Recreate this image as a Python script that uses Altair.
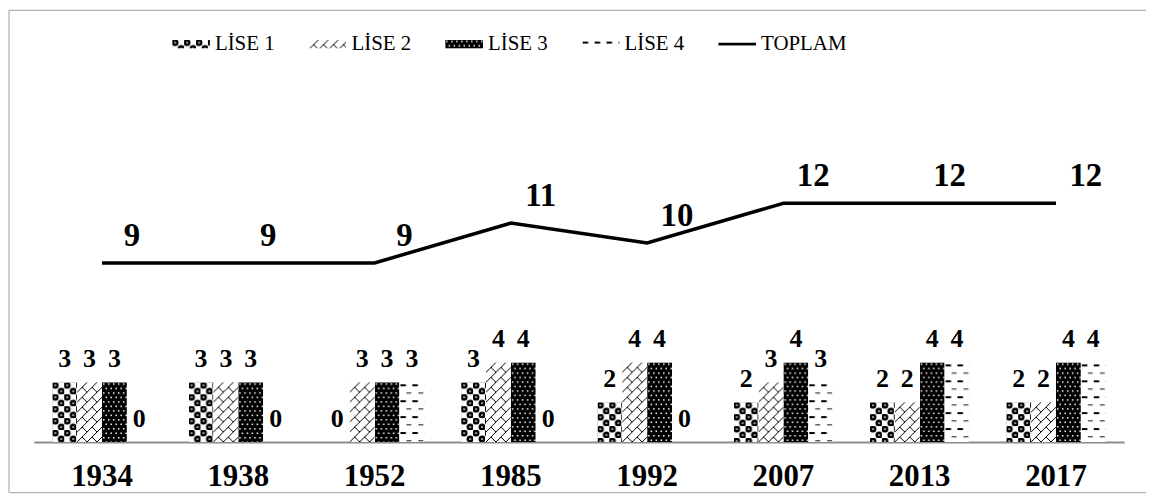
import base64
import altair as alt
import pandas as pd

years = ["1934", "1938", "1952", "1985", "1992", "2007", "2013", "2017"]
series = ["LİSE 1", "LİSE 2", "LİSE 3", "LİSE 4"]
lise1 = [3, 3, 0, 3, 2, 2, 2, 2]
lise2 = [3, 3, 3, 4, 4, 3, 2, 2]
lise3 = [3, 3, 3, 4, 4, 4, 4, 4]
lise4 = [0, 0, 3, 0, 0, 3, 4, 4]
toplam = [9, 9, 9, 11, 10, 12, 12, 12]
legend_items = ["LİSE 1", "LİSE 2", "LİSE 3", "LİSE 4", "TOPLAM"]

FONT = "Liberation Serif"


def pattern_uri(tw, th, content, bg):
    svg = (
        '<svg xmlns="http://www.w3.org/2000/svg" width="100%" height="100%">'
        f'<defs><pattern id="p" patternUnits="userSpaceOnUse" width="{tw}" height="{th}">'
        f'<rect width="{tw}" height="{th}" fill="{bg}"/>{content}</pattern></defs>'
        '<rect width="100%" height="100%" fill="url(#p)"/></svg>'
    )
    return "data:image/svg+xml;base64," + base64.b64encode(svg.encode("utf-8")).decode()


patterns = {
    "LİSE 1": pattern_uri(
        12, 12,
        '<circle cx="3" cy="3" r="3.5" fill="black"/><circle cx="9" cy="9" r="3.5" fill="black"/>'
        '<rect x="2" y="2.5" width="2.2" height="1.1" fill="white"/>'
        '<rect x="8" y="8.5" width="2.2" height="1.1" fill="white"/>',
        "white"),
    "LİSE 2": pattern_uri(
        10, 10,
        '<path d="M-1,11 L11,-1 M5,5 L11,11" stroke="black" stroke-width="1" fill="none"/>',
        "white"),
    "LİSE 3": pattern_uri(
        5, 9,
        '<rect x="1" y="1" width="1.5" height="1.5" fill="white"/>'
        '<rect x="3.5" y="5.5" width="1.5" height="1.5" fill="white"/>',
        "black"),
    "LİSE 4": pattern_uri(
        12, 16,
        '<rect x="1" y="2" width="5.5" height="2" fill="black"/>'
        '<rect x="7" y="10" width="5" height="1.4" fill="#555555"/>',
        "white"),
    "TOPLAM": "data:image/svg+xml;base64," + base64.b64encode(
        '<svg xmlns="http://www.w3.org/2000/svg" width="100%" height="100%">'
        '<rect x="0" y="35%" width="100%" height="30%" fill="black"/></svg>'.encode("utf-8")).decode(),
}

rows = []
for s, vals in zip(series, [lise1, lise2, lise3, lise4]):
    for y, v in zip(years, vals):
        rows.append({"year": y, "series": s, "value": v, "url": patterns[s]})
bars_df = pd.DataFrame(rows)
line_df = pd.DataFrame({"year": years, "total": toplam})
leg_df = pd.DataFrame({"item": legend_items, "url": [patterns[i] for i in legend_items]})
frame_df = pd.DataFrame({"k": [0]})

W, H = 1096, 360

xs = alt.X(
    "year:N", sort=years,
    scale=alt.Scale(paddingInner=0.27, paddingOuter=0.135),
    axis=alt.Axis(title=None, labelAngle=0, labelFontSize=31, labelFont=FONT,
                  labelFontWeight="bold", labelColor="black", labelPadding=20,
                  ticks=False, domainColor="#8c8c8c", domainWidth=2, grid=False),
)
ys = alt.Y("value:Q", scale=alt.Scale(domain=[0, 18]), axis=None)
xo = alt.XOffset("series:N", sort=series, scale=alt.Scale(paddingInner=0, paddingOuter=0))

bars = alt.Chart(bars_df).mark_image(aspect=False).encode(
    x=xs, xOffset=xo, y=ys, y2=alt.datum(0), url="url:N"
)

bar_labels = alt.Chart(bars_df).mark_text(
    font=FONT, fontSize=26, fontWeight="bold", color="black", baseline="alphabetic", dy=-15
).encode(x=xs, xOffset=xo, y=ys, text="value:Q")

line = alt.Chart(line_df).mark_line(color="black", strokeWidth=3.5).encode(
    x=alt.X("year:N", sort=years), y=alt.Y("total:Q")
)
line_labels = alt.Chart(line_df).mark_text(
    font=FONT, fontSize=33, fontWeight="bold", color="black", dx=30, dy=-27
).encode(x=alt.X("year:N", sort=years), y=alt.Y("total:Q"), text="total:Q")

main = alt.layer(bars, bar_labels, line, line_labels)

lx = alt.X("item:N", sort=legend_items, axis=None,
           scale=alt.Scale(type="point", range=[139, 688], padding=0))
leg_img = alt.Chart(leg_df).mark_image(aspect=False, width=38, height=9, align="left").encode(
    x=lx, y=alt.value(-40), url="url:N"
)
leg_txt = alt.Chart(leg_df).mark_text(
    font=FONT, fontSize=21, color="black", align="left", baseline="middle", dx=43
).encode(x=lx, y=alt.value(-40), text="item:N")

# chart-area frame (left, top and bottom edges; the right edge lies outside the picture)
fcol = "#a0a0a0"
frame_left = alt.Chart(frame_df).mark_rule(color=fcol, strokeWidth=1).encode(
    x=alt.value(-25), y=alt.value(-74), y2=alt.value(H + 51)
)
frame_top = alt.Chart(frame_df).mark_rule(color=fcol, strokeWidth=1).encode(
    x=alt.value(-25), x2=alt.value(W + 22), y=alt.value(-74)
)
frame_bottom = alt.Chart(frame_df).mark_rule(color=fcol, strokeWidth=1).encode(
    x=alt.value(-25), x2=alt.value(W + 22), y=alt.value(H + 51)
)

chart = alt.layer(
    main, alt.layer(leg_img, leg_txt), frame_left, frame_top, frame_bottom
).resolve_scale(x="independent").properties(
    width=W, height=H, padding=0
).configure_view(stroke=None)

chart.save("out.html", embed_options={"renderer": "svg", "actions": False})
